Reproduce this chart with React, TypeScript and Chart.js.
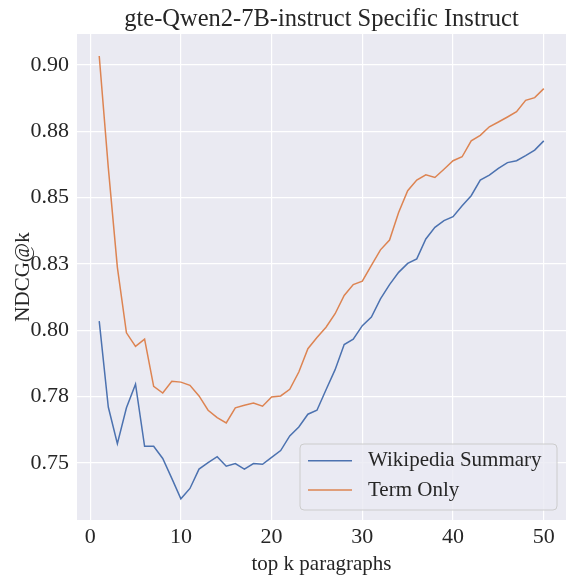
import { useEffect, useRef } from "react";
import { Chart, registerables } from "chart.js";

Chart.register(...registerables);

const topK = [
  1, 2, 3, 4, 5, 6, 7, 8, 9, 10, 11, 12, 13, 14, 15, 16, 17, 18, 19, 20, 21, 22, 23, 24, 25,
  26, 27, 28, 29, 30, 31, 32, 33, 34, 35, 36, 37, 38, 39, 40, 41, 42, 43, 44, 45, 46, 47, 48,
  49, 50,
];

const wikipediaSummary = [
  0.8034, 0.771, 0.7572, 0.7707, 0.7796, 0.7562, 0.7562, 0.7516, 0.7441, 0.7364,
  0.7403, 0.7476, 0.75, 0.7523, 0.7487, 0.7497, 0.7476, 0.7497, 0.7494, 0.752,
  0.7546, 0.7601, 0.7635, 0.7683, 0.7698, 0.7775, 0.7851, 0.7946, 0.7966, 0.8017,
  0.8049, 0.8118, 0.8172, 0.8218, 0.8252, 0.8269, 0.8344, 0.8388, 0.8413, 0.8428,
  0.8469, 0.8507, 0.8566, 0.8585, 0.861, 0.8632, 0.8639, 0.8658, 0.8679, 0.8714,
];

const termOnly = [
  0.9034, 0.8613, 0.8237, 0.799, 0.7939, 0.7966, 0.7788, 0.7763, 0.7807, 0.7804,
  0.7792, 0.7752, 0.7698, 0.767, 0.765, 0.7707, 0.7717, 0.7725, 0.7713, 0.7748,
  0.7752, 0.7777, 0.7842, 0.793, 0.7972, 0.8011, 0.8062, 0.8131, 0.8172, 0.8185,
  0.8244, 0.8303, 0.834, 0.8444, 0.8526, 0.8566, 0.8586, 0.8576, 0.8607, 0.8639,
  0.8654, 0.8714, 0.8735, 0.8767, 0.8785, 0.8804, 0.8824, 0.8867, 0.8877, 0.8911,
];

const xTicks = [0, 10, 20, 30, 40, 50];
const yTicks = [0.75, 0.775, 0.8, 0.825, 0.85, 0.875, 0.9];
const yTickLabels = ["0.75", "0.78", "0.80", "0.83", "0.85", "0.88", "0.90"];

const FONT = "'Liberation Serif', 'Times New Roman', Times, serif";
const TEXT = "#262626";
const BLUE = "#4c72b0";
const ORANGE = "#dd8452";

const bgPlugin = {
  id: "axesBg",
  beforeDraw(chart: any) {
    const { ctx, chartArea: a } = chart;
    ctx.save();
    ctx.fillStyle = "#eaeaf2";
    ctx.fillRect(a.left, a.top, a.right - a.left, a.bottom - a.top);
    ctx.restore();
  },
};

const legendPlugin = {
  id: "boxLegend",
  afterDatasetsDraw(chart: any) {
    const { ctx, chartArea: a } = chart;
    const w = 257;
    const h = 66;
    const x = a.right - 9 - w;
    const y = a.bottom - 10 - h;
    ctx.save();
    ctx.beginPath();
    const r = 4;
    ctx.moveTo(x + r, y);
    ctx.lineTo(x + w - r, y);
    ctx.quadraticCurveTo(x + w, y, x + w, y + r);
    ctx.lineTo(x + w, y + h - r);
    ctx.quadraticCurveTo(x + w, y + h, x + w - r, y + h);
    ctx.lineTo(x + r, y + h);
    ctx.quadraticCurveTo(x, y + h, x, y + h - r);
    ctx.lineTo(x, y + r);
    ctx.quadraticCurveTo(x, y, x + r, y);
    ctx.closePath();
    ctx.fillStyle = "rgba(234,234,242,0.8)";
    ctx.fill();
    ctx.strokeStyle = "#cccccc";
    ctx.lineWidth = 1;
    ctx.stroke();
    const rows = [y + 16.7, y + 46];
    chart.data.datasets.forEach((ds: any, i: number) => {
      const ry = rows[i];
      ctx.beginPath();
      ctx.moveTo(x + 8, ry);
      ctx.lineTo(x + 52, ry);
      ctx.strokeStyle = ds.borderColor;
      ctx.lineWidth = 1.5;
      ctx.stroke();
      ctx.fillStyle = TEXT;
      ctx.font = `21px ${FONT}`;
      ctx.textBaseline = "middle";
      ctx.textAlign = "left";
      ctx.fillText(ds.label, x + 68, ry);
    });
    ctx.restore();
  },
};

export default function App() {
  const ref = useRef<HTMLCanvasElement | null>(null);

  useEffect(() => {
    document.body.style.margin = "0";
    const canvas = ref.current;
    if (!canvas) return;
    const chart = new Chart(canvas, {
      type: "line",
      data: {
        datasets: [
          {
            label: "Wikipedia Summary",
            data: topK.map((k, i) => ({ x: k, y: wikipediaSummary[i] })),
            borderColor: BLUE,
            backgroundColor: BLUE,
            borderWidth: 1.5,
            pointRadius: 0,
            tension: 0,
          },
          {
            label: "Term Only",
            data: topK.map((k, i) => ({ x: k, y: termOnly[i] })),
            borderColor: ORANGE,
            backgroundColor: ORANGE,
            borderWidth: 1.5,
            pointRadius: 0,
            tension: 0,
          },
        ],
      },
      options: {
        responsive: false,
        animation: false,
        layout: { padding: 0 },
        plugins: {
          legend: { display: false },
          tooltip: { enabled: false },
          title: {
            display: true,
            fullSize: false,
            text: "gte-Qwen2-7B-instruct Specific Instruct",
            color: TEXT,
            font: { family: FONT, size: 24.5, weight: "normal", lineHeight: 1 },
            padding: { top: 7.45, bottom: 2.05 },
          },
        },
        scales: {
          x: {
            type: "linear",
            min: -1.45,
            max: 52.45,
            afterFit: (s: any) => {
              s.height = 57;
            },
            afterBuildTicks: (s: any) => {
              s.ticks = xTicks.map((v) => ({ value: v }));
            },
            ticks: {
              color: TEXT,
              font: { family: FONT, size: 22 },
              padding: 4.3,
              maxRotation: 0,
              callback: (v: any) => String(v),
            },
            grid: { color: "#ffffff", lineWidth: 1.2, drawTicks: false },
            border: { display: false },
            title: {
              display: true,
              text: "top k paragraphs",
              color: TEXT,
              font: { family: FONT, size: 21 },
              padding: { top: 0, bottom: 0 },
            },
          },
          y: {
            type: "linear",
            min: 0.7284,
            max: 0.9117,
            afterFit: (s: any) => {
              s.width = 77;
            },
            afterBuildTicks: (s: any) => {
              s.ticks = yTicks.map((v) => ({ value: v }));
            },
            ticks: {
              color: TEXT,
              font: { family: FONT, size: 22 },
              padding: 8,
              callback: (v: any) => {
                const i = yTicks.findIndex((t) => Math.abs(t - v) < 1e-9);
                return i >= 0 ? yTickLabels[i] : "";
              },
            },
            grid: { color: "#ffffff", lineWidth: 1.2, drawTicks: false },
            border: { display: false },
            title: {
              display: true,
              text: "NDCG@k",
              color: TEXT,
              font: { family: FONT, size: 21 },
              padding: { top: 11, bottom: 0 },
            },
          },
        },
      },
      plugins: [bgPlugin, legendPlugin],
    });
    return () => chart.destroy();
  }, []);

  return (
    <div style={{ width: 566, height: 577 }}>
      <canvas ref={ref} width={566} height={577} style={{ display: "block" }} />
    </div>
  );
}
